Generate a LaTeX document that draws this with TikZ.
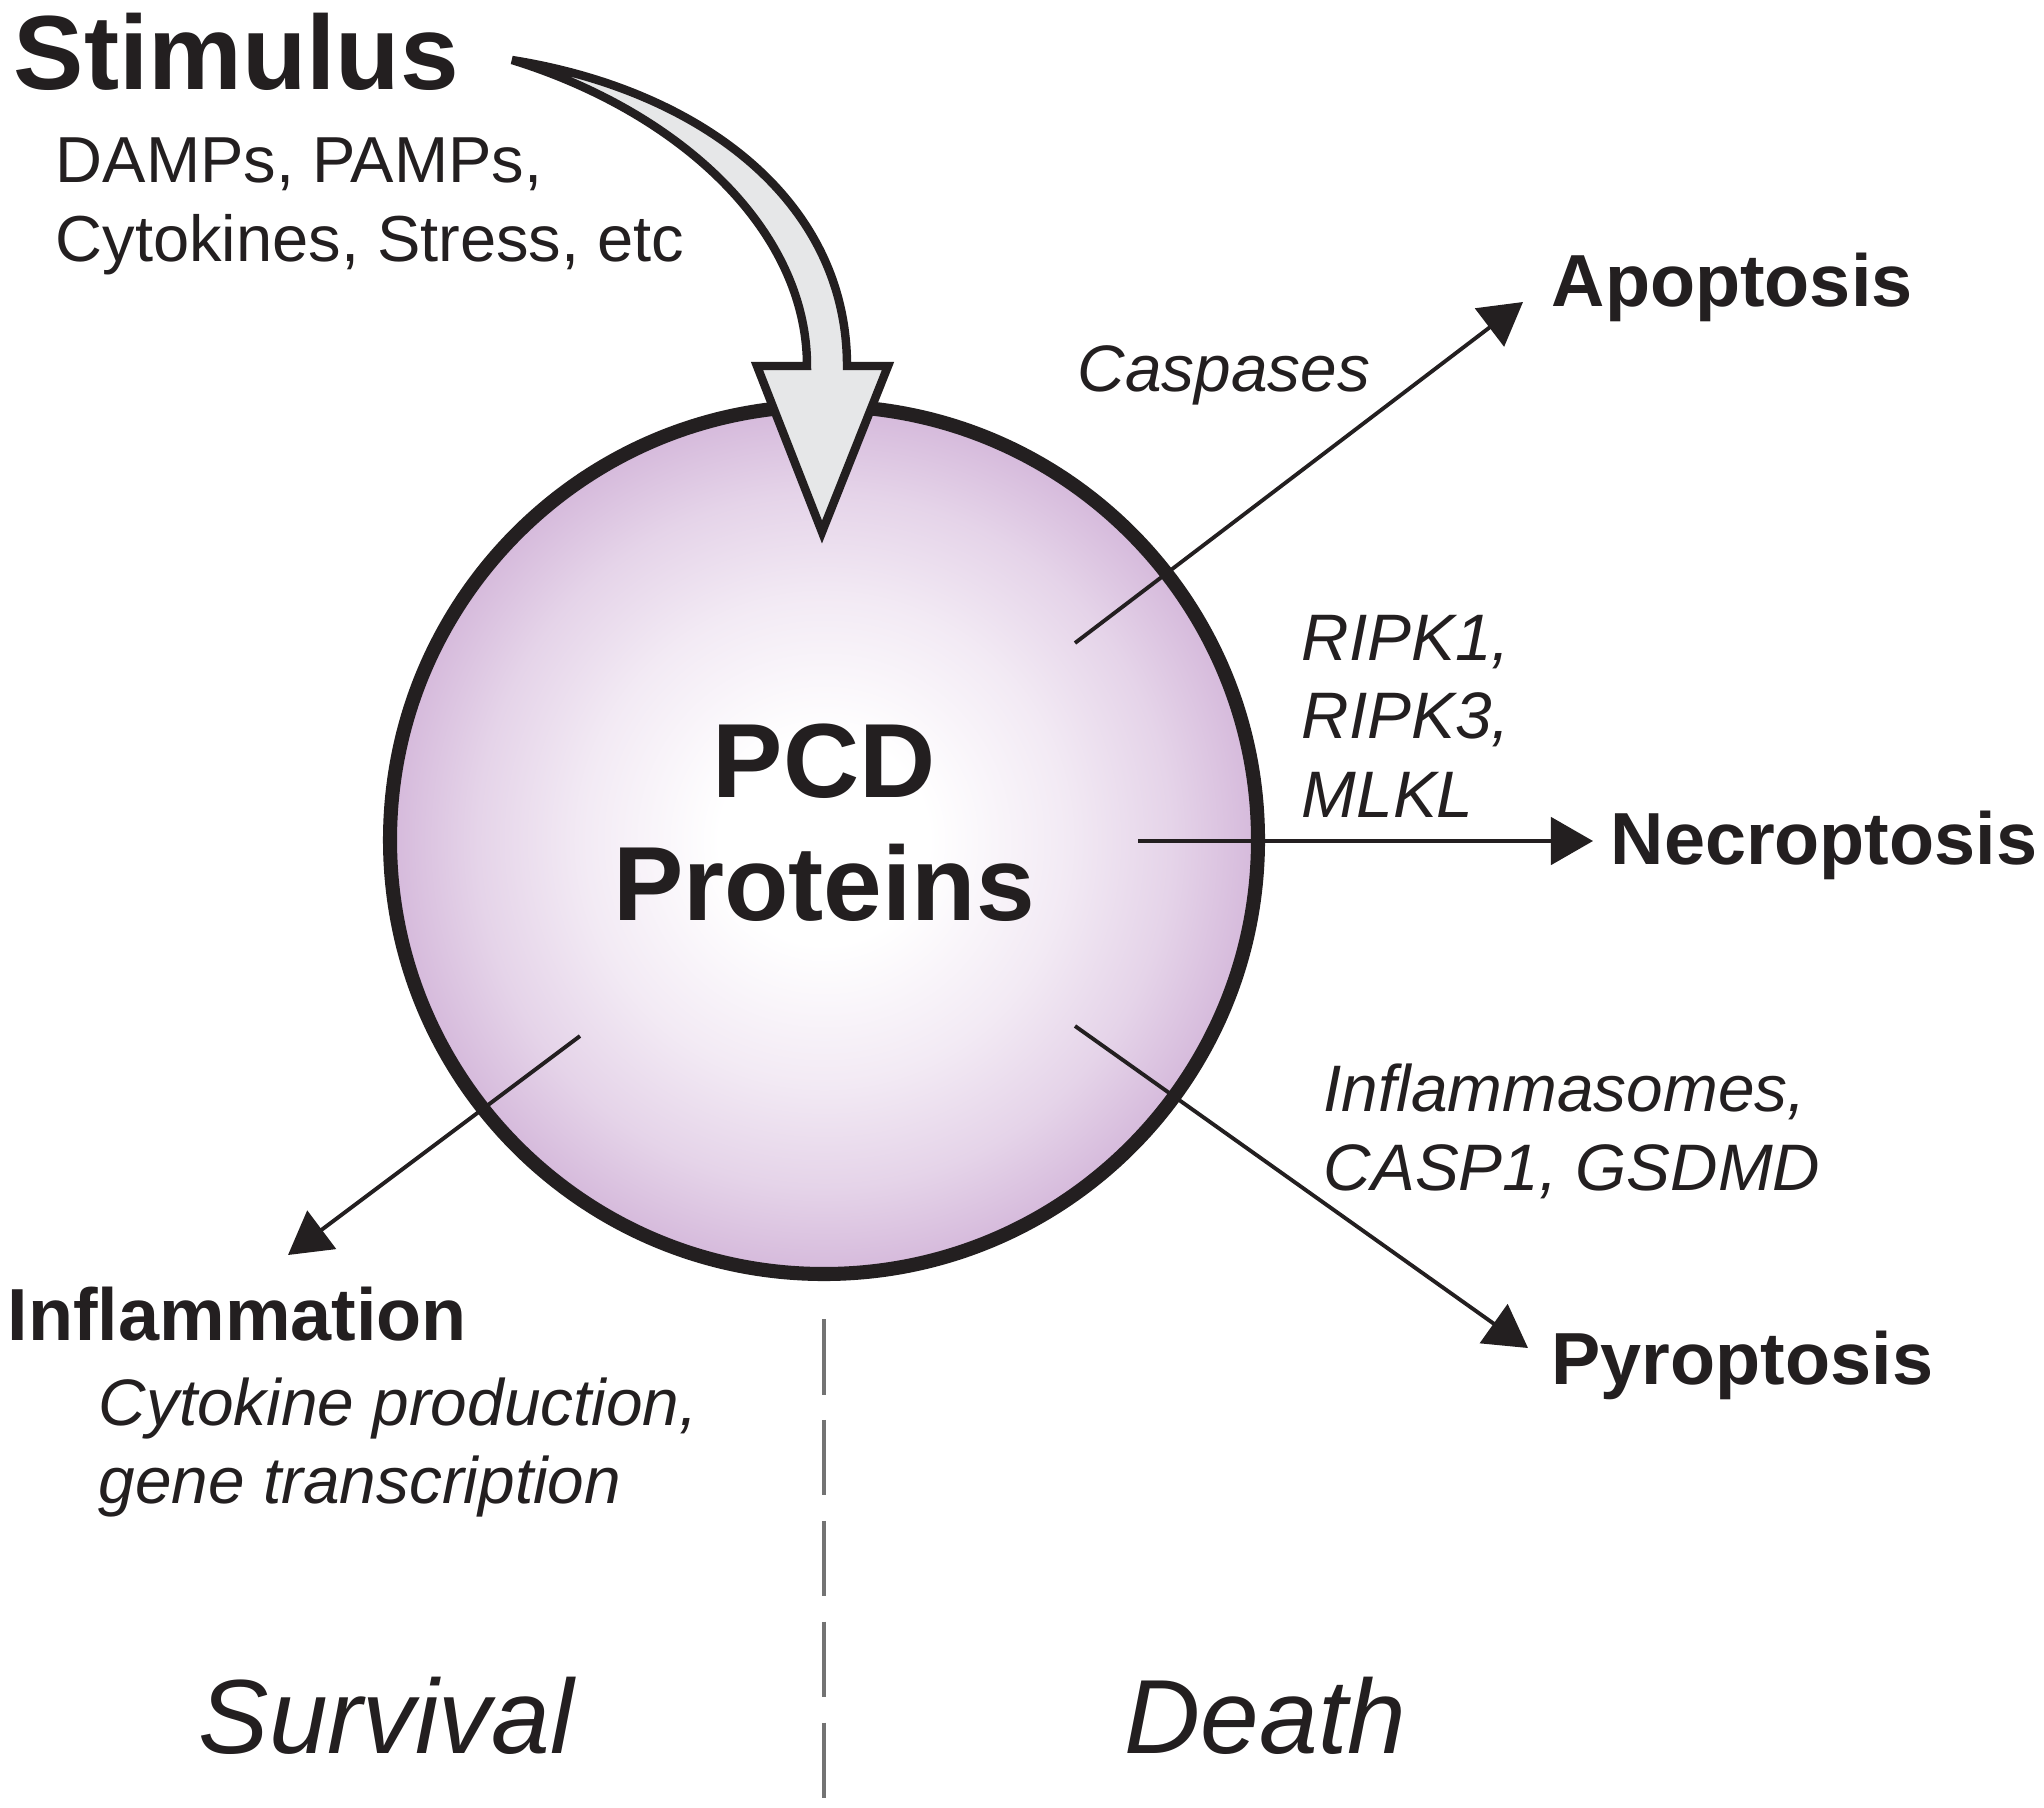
\documentclass[tikz,border=0pt]{standalone}
\usepackage{fontspec}
\setmainfont{Liberation Sans}
\usepackage{tikz}
\usetikzlibrary{calc}
\usetikzlibrary{arrows.meta}

\definecolor{ink}{HTML}{231F20}
\definecolor{lilac}{HTML}{D5B9DB}
\definecolor{arrowgray}{HTML}{E6E7E8}
\definecolor{dashgray}{HTML}{737373}
\pgfdeclareradialshading{pcdball}{\pgfpoint{0bp}{0bp}}{color(0bp)=(white); color(6bp)=(white); color(14bp)=(lilac!30!white); color(20bp)=(lilac!62!white); color(25bp)=(lilac); color(50bp)=(lilac)}

\tikzset{
	bigtitle/.style = {font=\fontsize{30}{35}\selectfont\bfseries, text=ink, inner sep=0pt},
	outcome/.style = {font=\fontsize{21}{25}\selectfont\bfseries, text=ink, inner sep=0pt, anchor=base west},
	mediator/.style = {font=\fontsize{18.7}{22.2}\selectfont\itshape, text=ink, inner sep=0pt, anchor=base west, align=left},
	cause/.style = {font=\fontsize{18.5}{22.2}\selectfont, text=ink, inner sep=0pt, anchor=base west, align=left},
	cell/.style = {circle, draw=ink, line width=4pt, minimum size=8.68cm, shading=pcdball},
	flow/.style = {draw=ink, line width=1.1pt, arrows=-{Triangle[length=12pt, width=13.5pt]}}
}

\begin{document}
\begin{tikzpicture}
	\useasboundingbox (0,0) rectangle (20.44,-18.07);

	% the cell
	\node [cell] (pcd) at (8.24,-8.40) {};
	\node [bigtitle, align=center] (pcdtext) at ([yshift=0.17cm]pcd.center) {PCD\\Proteins};

	% stimulus arrow
	\draw [draw=ink, fill=arrowgray, line width=2.4pt, line join=miter]
		(5.12,-0.60) .. controls (7.00,-0.90) and (8.47,-2.00) .. (8.47,-3.66)
		-- (8.88,-3.66) -- (8.22,-5.32) -- (7.57,-3.66) -- (8.07,-3.66)
		.. controls (8.07,-2.30) and (6.80,-1.12) .. cycle;
	\node [bigtitle, anchor=base west] (stim) at (0.13,-0.89) {Stimulus};
	% base of a multi-line node is its last line
	\node [cause] (stimtext) at (0.55,-2.61) {DAMPs, PAMPs,\\Cytokines, Stress, etc};

	% outcomes
	\node [outcome] (apo) at (15.51,-3.06) {Apoptosis};
	\node [outcome] (nec) at (16.10,-8.64) {Necroptosis};
	\node [outcome] (pyr) at (15.51,-13.84) {Pyroptosis};
	\node [outcome] (inf) at (0.07,-13.40) {Inflammation};

	\node [mediator] (casp) at (10.77,-3.91) {Caspases};
	\node [mediator] (ripk) at (13.01,-8.17) {RIPK1,\\RIPK3,\\MLKL};
	\node [mediator] (infl) at (13.23,-11.90) {Inflammasomes,\\CASP1, GSDMD};
	\node [mediator] (cyto) at (0.98,-15.03) {Cytokine production,\\gene transcription};

	% arrows out of the cell
	\coordinate (apo-s) at (10.75,-6.43);
	\coordinate (apo-t) at (15.23,-3.02);
	\coordinate (nec-s) at (11.38,-8.41);
	\coordinate (nec-t) at (15.93,-8.41);
	\coordinate (pyr-s) at (10.75,-10.26);
	\coordinate (pyr-t) at (15.28,-13.48);
	\coordinate (inf-s) at (5.80,-10.36);
	\coordinate (inf-t) at (2.88,-12.55);
	\draw [flow] (apo-s) -- (apo-t);
	\draw [flow] (nec-s) -- (nec-t);
	\draw [flow] (pyr-s) -- (pyr-t);
	\draw [flow] (inf-s) -- (inf-t);

	% survival / death divide
	\coordinate (div-top) at (8.24,-13.19);
	\coordinate (div-bot) at (8.24,-18.07);
	\draw [dashgray, line width=1.1pt, dash pattern=on 21.5pt off 7.2pt] (div-top) -- (div-bot);
	\node [bigtitle, font=\fontsize{30}{35}\selectfont\itshape, anchor=base west] (surv) at (1.98,-17.53) {Survival};
	\node [bigtitle, font=\fontsize{30}{35}\selectfont\itshape, anchor=base west] (death) at (11.24,-17.53) {Death};
\end{tikzpicture}
\end{document}
